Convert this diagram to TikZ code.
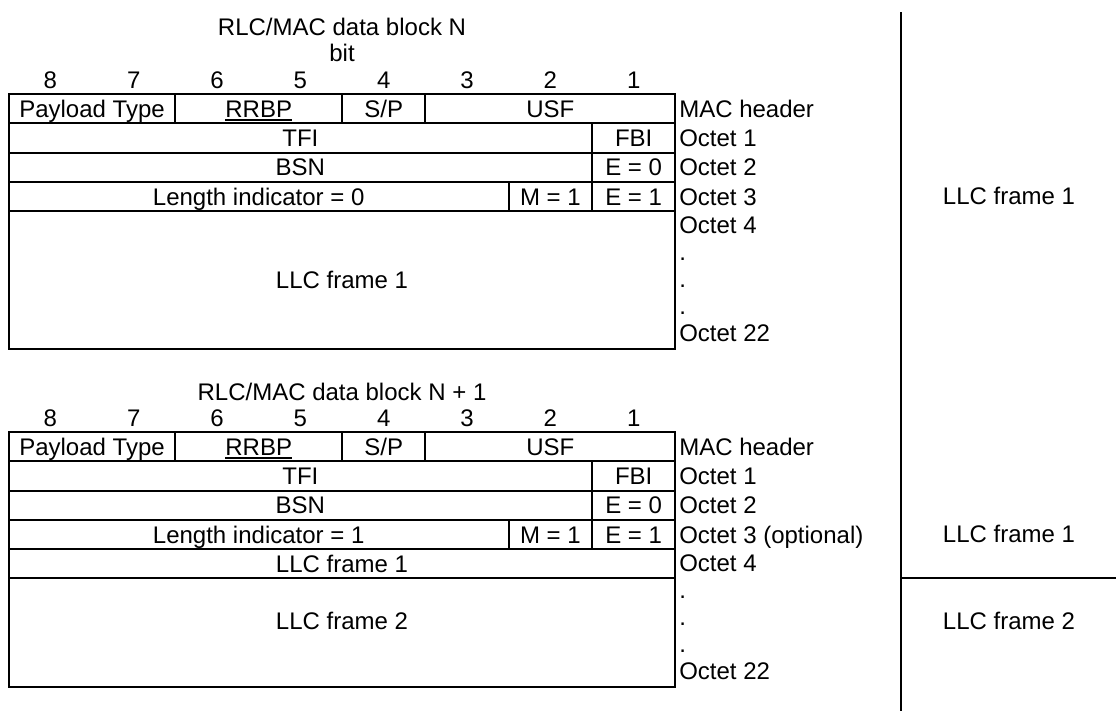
\documentclass[tikz,border=0pt]{standalone}
\usepackage{fontspec}
\setmainfont{Liberation Sans}

\begin{document}
\begin{tikzpicture}[x=0.75pt, y=-0.75pt,
    every node/.style={inner sep=0pt, font=\fontsize{18}{21.6}\selectfont, text height=13pt, text depth=0pt},
    cellLine/.style={draw=borderColour, line width=1.5pt},
    octetLabel/.style={anchor=west}]

    \definecolor{borderColour}{HTML}{000000}

    % Define the table grid
    \def\xL{8.7}
    \def\colW{83.33}
    \def\rowH{29.25}

    \useasboundingbox (0,0) rectangle (1116,711);

    % Draw both data blocks
    \foreach \blk/\yT/\li/\oct in {A/94/0/{Octet 3}, B/432/1/{Octet 3 (optional)}} {

        % Bit numbers
        \foreach \n in {1,...,8}
            \node (bit\blk\n) at ({\xL+\colW*(8-\n+0.5)}, {\yT-14}) {\n};

        % Outline and rows
        \draw[cellLine] (\xL,\yT) rectangle ({\xL+8*\colW}, {\yT+255});
        \foreach \k in {1,...,4}
            \draw[cellLine] (\xL, {\yT+\k*\rowH}) -- ({\xL+8*\colW}, {\yT+\k*\rowH});

        % Column separators
        \foreach \c in {2,4,5}
            \draw[cellLine] ({\xL+\c*\colW}, \yT) -- ++(0,\rowH);
        \draw[cellLine] ({\xL+7*\colW}, {\yT+\rowH}) -- ++(0,{2*\rowH});
        \draw[cellLine] ({\xL+6*\colW}, {\yT+3*\rowH}) -- ++(0,\rowH);
        \draw[cellLine] ({\xL+7*\colW}, {\yT+3*\rowH}) -- ++(0,\rowH);

        % Field names
        \node (ptype\blk) at ({\xL+\colW}, {\yT+0.5*\rowH}) {Payload Type};
        \node (rrbp\blk) at ({\xL+3*\colW}, {\yT+0.5*\rowH}) {RRBP};
        \node (sp\blk) at ({\xL+4.5*\colW}, {\yT+0.5*\rowH}) {S/P};
        \node (usf\blk) at ({\xL+6.5*\colW}, {\yT+0.5*\rowH}) {USF};
        \node (tfi\blk) at ({\xL+3.5*\colW}, {\yT+1.5*\rowH}) {TFI};
        \node (fbi\blk) at ({\xL+7.5*\colW}, {\yT+1.5*\rowH}) {FBI};
        \node (bsn\blk) at ({\xL+3.5*\colW}, {\yT+2.5*\rowH}) {BSN};
        \node (ezero\blk) at ({\xL+7.5*\colW}, {\yT+2.5*\rowH}) {E = 0};
        \node (len\blk) at ({\xL+3*\colW}, {\yT+3.5*\rowH}) {Length indicator = \li};
        \node (mone\blk) at ({\xL+6.5*\colW}, {\yT+3.5*\rowH}) {M = 1};
        \node (eone\blk) at ({\xL+7.5*\colW}, {\yT+3.5*\rowH}) {E = 1};
        \draw[line width=1.5pt] ([yshift=-2pt]rrbp\blk.south west) -- ([yshift=-2pt]rrbp\blk.south east);

        % Octet labels
        \node[octetLabel] (mac\blk) at (679, {\yT+0.5*\rowH}) {MAC header};
        \node[octetLabel] (octOne\blk) at (679, {\yT+1.5*\rowH}) {Octet 1};
        \node[octetLabel] (octTwo\blk) at (679, {\yT+2.5*\rowH}) {Octet 2};
        \node[octetLabel] (octThree\blk) at (679, {\yT+3.5*\rowH}) {\oct};
        \node[octetLabel] (octFour\blk) at (679, {\yT+131}) {Octet 4};
        \foreach \d in {1,2,3}
            \node[octetLabel] (dot\blk\d) at (679, {\yT+131+27*\d}) {.};
        \node[octetLabel] (octLast\blk) at (679, {\yT+239}) {Octet 22};
    }

    % Titles
    \node (titleA) at (342,27) {RLC/MAC data block N};
    \node (bitTitle) at (342,53) {bit};
    \node (titleB) at (342,392) {RLC/MAC data block N + 1};

    % Frame contents
    \node (llcA) at (342,280) {LLC frame 1};
    \draw[cellLine] (\xL,{432+5*\rowH}) -- ({\xL+8*\colW},{432+5*\rowH});
    \node (llcOneB) at (342,{432+4.5*\rowH}) {LLC frame 1};
    \node (llcTwoB) at (342,621) {LLC frame 2};

    % Draw the LLC frame column
    \coordinate (splitTop) at (901,12);
    \coordinate (splitBottom) at (901,711);
    \coordinate (splitMid) at (901,578.25);
    \coordinate (splitEnd) at (1116,578.25);
    \draw[cellLine] (splitTop) -- (splitBottom);
    \draw[cellLine] (splitMid) -- (splitEnd);
    \node (rightOneA) at (1009,196) {LLC frame 1};
    \node (rightOneB) at (1009,534) {LLC frame 1};
    \node (rightTwoB) at (1009,621) {LLC frame 2};

\end{tikzpicture}
\end{document}
